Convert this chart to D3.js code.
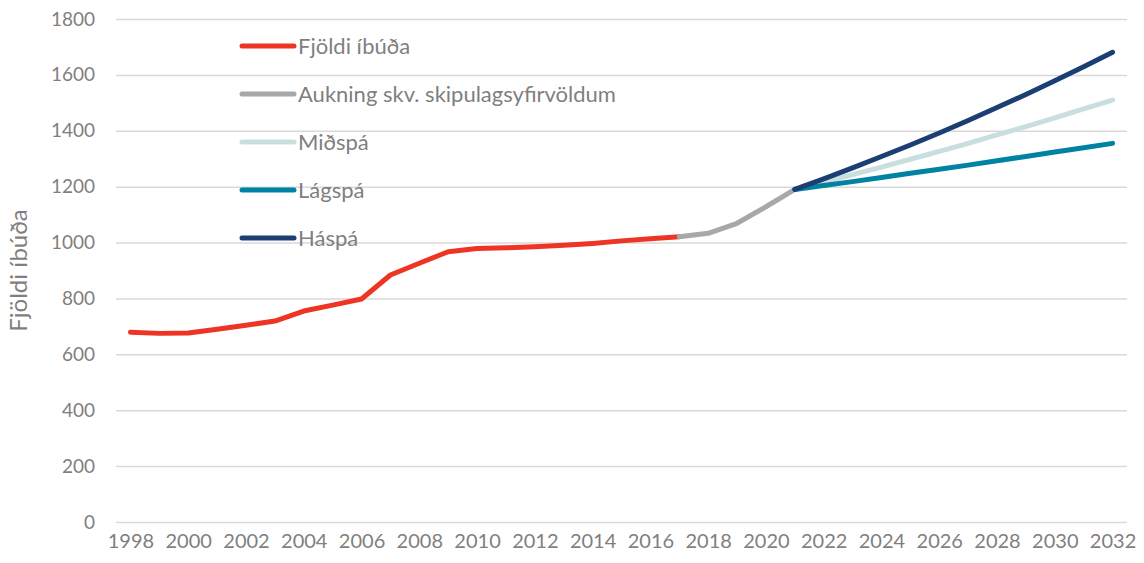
<!DOCTYPE html>
<html>
<head>
  <meta charset="utf-8">
  <script src="https://d3js.org/d3.v7.min.js"></script>
  <style>
    body {
      margin: 0;
      background: #fff;
    }

    svg text {
      font-family: Lato, "Open Sans", sans-serif;
      fill: #7f7f80;
    }

    .grid line {
      stroke: #d9d9d9;
      stroke-width: 1.5px;
    }

    .grid path,
    .x-axis path,
    .x-axis line,
    .y-axis path,
    .y-axis line {
      display: none;
    }

    .line {
      fill: none;
      stroke-width: 5px;
      stroke-linecap: round;
      stroke-linejoin: round;
    }
  </style>
</head>
<body>
  <svg id="chart" width="1144" height="563"></svg>

  <script>
    // years on the category axis
    var years = d3.range(1998, 2033);
    var yTicks = [0, 200, 400, 600, 800, 1000, 1200, 1400, 1600, 1800];
    var xTickYears = years.filter(y => (y - 1998) % 2 === 0);

    // Fjöldi íbúða, 1998-2017
    var fjoldiYears = d3.range(1998, 2018);
    var fjoldi = [679, 675, 676, 690, 704, 719, 755, 776, 798, 884,
      926, 967, 979, 981, 985, 990, 997, 1006, 1014, 1021];

    // Aukning skv. skipulagsyfirvöldum, 2017-2021
    var aukningYears = [2017, 2018, 2019, 2020, 2021];
    var aukning = [1021, 1033, 1069, 1128, 1190];

    // spár, 2021-2032
    var spaYears = d3.range(2021, 2033);
    var midspa = [1190, 1216, 1243, 1270, 1298, 1326, 1355, 1385, 1415, 1446, 1478, 1510];
    var lagspa = [1190, 1204, 1218, 1233, 1248, 1262, 1277, 1293, 1308, 1324, 1339, 1355];
    var haspa = [1190, 1228, 1267, 1308, 1349, 1392, 1437, 1483, 1530, 1579, 1629, 1681];

    var series = [
      { name: "Fjöldi íbúða", color: "#ee3524", years: fjoldiYears, values: fjoldi },
      { name: "Aukning skv. skipulagsyfirvöldum", color: "#a7a8ab", years: aukningYears, values: aukning },
      { name: "Miðspá", color: "#c9dfdf", years: spaYears, values: midspa },
      { name: "Lágspá", color: "#0083a3", years: spaYears, values: lagspa },
      { name: "Háspá", color: "#1b3f73", years: spaYears, values: haspa }
    ];

    var svg = d3.select("#chart"),
      margin = { top: 19, right: 17, bottom: 41, left: 116 },
      width = 1144,
      height = 563;

    var x = d3.scalePoint()
      .domain(years)
      .range([margin.left, width - margin.right])
      .padding(0.5);

    var y = d3.scaleLinear()
      .domain([0, 1800])
      .range([height - margin.bottom, margin.top]);

    // gridlines
    svg.append("g")
      .attr("class", "grid")
      .attr("transform", "translate(" + margin.left + ",0)")
      .call(d3.axisLeft(y).tickValues(yTicks)
        .tickSize(-(width - margin.left - margin.right)).tickFormat(""));

    svg.append("g")
      .attr("class", "y-axis")
      .attr("transform", "translate(" + (margin.left - 21) + ",0)")
      .call(d3.axisLeft(y).tickValues(yTicks).tickSize(0).tickPadding(0).tickFormat(d3.format("d")))
      .selectAll("text")
      .style("font-size", "19px");

    svg.append("g")
      .attr("class", "x-axis")
      .attr("transform", "translate(0," + (height - margin.bottom) + ")")
      .call(d3.axisBottom(x).tickValues(xTickYears).tickSize(0).tickPadding(12))
      .selectAll("text")
      .style("font-size", "20px");

    svg.append("text")
      .attr("transform", "translate(27," + ((margin.top + height - margin.bottom) / 2) + ") rotate(-90)")
      .attr("text-anchor", "middle")
      .style("font-size", "24px")
      .text("Fjöldi íbúða");

    var line = d3.line()
      .x(d => x(d[0]))
      .y(d => y(d[1]));

    svg.selectAll(".line")
      .data(series)
      .join("path")
      .attr("class", "line")
      .style("stroke", d => d.color)
      .attr("d", d => line(d.years.map((yr, i) => [yr, d.values[i]])));

    // legend
    var legend = svg.selectAll(".legend")
      .data(series)
      .join("g")
      .attr("class", "legend")
      .attr("transform", (d, i) => "translate(242," + (46 + i * 48) + ")");

    legend.append("line")
      .attr("x1", 0)
      .attr("x2", 52)
      .style("stroke", d => d.color)
      .style("stroke-width", 5)
      .style("stroke-linecap", "round");

    legend.append("text")
      .attr("x", 56)
      .attr("dy", ".35em")
      .style("font-size", "22px")
      .text(d => d.name);
  </script>
</body>
</html>
